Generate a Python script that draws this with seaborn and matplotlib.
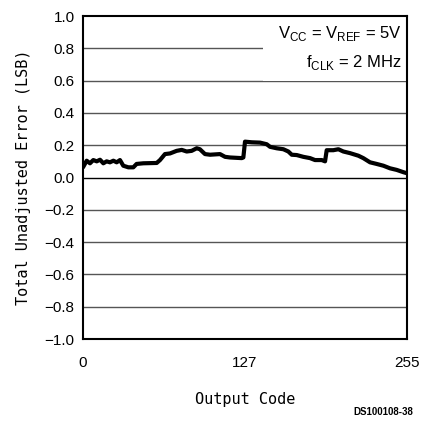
import matplotlib
matplotlib.use("Agg")
import matplotlib.pyplot as plt
import seaborn as sns
import pandas as pd
from matplotlib.patches import Rectangle

codes = [0, 2.9, 5.5, 8.1, 10.8, 13.4, 16, 18.6, 21.2, 23.9, 26.5, 29.1, 31.7, 35.7,
         39.6, 42.2, 47.5, 58, 60.6, 64.5, 68.5, 73.7, 77.7, 81.6, 85.5, 89.5, 92,
         96, 100, 107.8, 111.8, 115.7, 124.9, 126.2, 127.5, 132.8, 139.3, 144.6,
         147.2, 152.4, 157.7, 161.6, 164.3, 168.2, 173.4, 178.7, 182.6, 187.9,
         190.5, 191.8, 197, 201, 204.9, 210.1, 216.7, 220.6, 225.9, 231.1, 236.4,
         241.6, 246.9, 252.1, 254.7]
errors = [0.063, 0.104, 0.088, 0.108, 0.100, 0.110, 0.088, 0.100, 0.094, 0.104,
          0.094, 0.108, 0.073, 0.063, 0.063, 0.084, 0.088, 0.090, 0.108, 0.145,
          0.149, 0.165, 0.171, 0.161, 0.165, 0.181, 0.175, 0.145, 0.141, 0.145,
          0.128, 0.124, 0.120, 0.124, 0.222, 0.218, 0.216, 0.206, 0.190, 0.181,
          0.175, 0.161, 0.141, 0.139, 0.128, 0.120, 0.108, 0.108, 0.100, 0.169,
          0.169, 0.175, 0.161, 0.151, 0.135, 0.120, 0.094, 0.084, 0.073, 0.057,
          0.047, 0.033, 0.027]
yticks = [-1.0, -0.8, -0.6, -0.4, -0.2, 0.0, 0.2, 0.4, 0.6, 0.8, 1.0]
xticks = [0, 127, 255]

df = pd.DataFrame({"code": codes, "err": errors})

sns.set_theme(style="white")
plt.rcParams['font.family'] = ['Liberation Sans', 'DejaVu Sans']
plt.rcParams['mathtext.fontset'] = 'custom'
plt.rcParams['mathtext.rm'] = 'Liberation Sans'
plt.rcParams['text.color'] = 'black'
plt.rcParams['axes.labelcolor'] = 'black'

fig = plt.figure(figsize=(4.23, 4.23), dpi=100)
ax = fig.add_axes([83/423, 1-339/423, 324/423, 323/423])

for v in yticks[1:-1]:
    ax.axhline(v, color="black" if v == 0 else "#555555", lw=1.0, zorder=1)

ax.add_patch(Rectangle((0.555, 0.8), 0.445, 0.2, transform=ax.transAxes,
                       facecolor="white", edgecolor="none", zorder=2))

sns.lineplot(data=df, x="code", y="err", ax=ax, color="black", lw=3.0,
             zorder=3, estimator=None)

ax.set_xlim(0, 255)
ax.set_ylim(-1.0, 1.0)
ax.set_xticks(xticks)
ax.set_xticklabels([str(t) for t in xticks])
ax.set_yticks(yticks)
ax.set_yticklabels([f"{t:.1f}".replace("-", "\u2212") for t in yticks])
ax.tick_params(axis="both", labelsize=11, length=0, pad=6, colors="black")
ax.tick_params(axis="x", pad=12)
for s in ax.spines.values():
    s.set_color("black")
    s.set_linewidth(1.5)
    s.set_zorder(5)

ax.set_xlabel("Output Code", fontsize=11, family="DejaVu Sans Mono", labelpad=16)
ax.set_ylabel("Total Unadjusted Error (LSB)", fontsize=11, family="DejaVu Sans Mono",
              labelpad=10)

ax.text(0.985, 0.945, r"V$_{\mathrm{CC}}$ = V$_{\mathrm{REF}}$ = 5V", transform=ax.transAxes,
        ha="right", va="center", fontsize=12, zorder=4, color="black")
ax.text(0.985, 0.855, r"f$_{\mathrm{CLK}}$ = 2 MHz", transform=ax.transAxes,
        ha="right", va="center", fontsize=12, zorder=4, color="black")

fig.text(413/423, 1-412/423, "DS100108-38", ha="right", va="center", fontsize=7,
         fontweight="bold", color="black")

fig.savefig("out.png", dpi=100)
